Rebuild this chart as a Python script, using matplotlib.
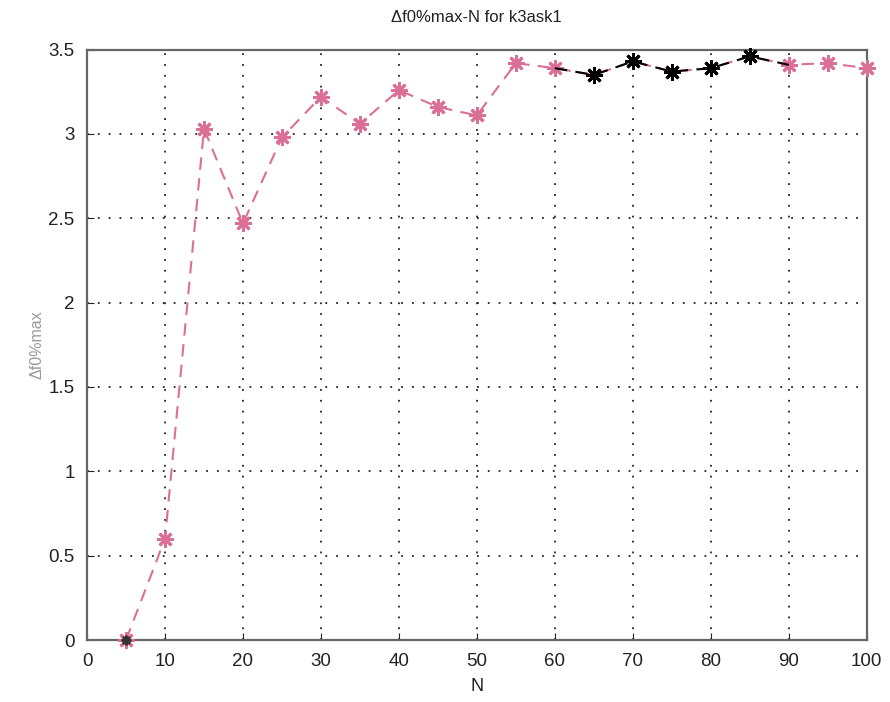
import matplotlib
matplotlib.use("Agg")
import matplotlib.pyplot as plt

#Data
N = [5, 10, 15, 20, 25, 30, 35, 40, 45, 50, 55, 60, 65, 70, 75, 80, 85, 90, 95, 100]
DF = [0.0, 0.6, 3.03, 2.47, 2.98, 3.22, 3.06, 3.26, 3.16, 3.11, 3.42, 3.39,
      3.35, 3.43, 3.37, 3.39, 3.46, 3.41, 3.42, 3.39]
#Black overlay segment
N_BLK = [60, 65, 70, 75, 80, 85, 90]
DF_BLK = [3.39, 3.35, 3.43, 3.37, 3.39, 3.46, 3.41]

XTICKS = list(range(0, 101, 10))
YTICKS = [0, 0.5, 1, 1.5, 2, 2.5, 3, 3.5]
YLABELS = ["0", "0.5", "1", "1.5", "2", "2.5", "3", "3.5"]

PINK = "#dc6f95"
AST = (8, 2, 0)   #MATLAB style asterisk

plt.rcParams["font.family"] = ["Liberation Sans", "DejaVu Sans"]

fig = plt.figure(figsize=(8.9, 7.02), dpi=100)
ax = fig.add_axes([0.0978, 0.0883, 0.876, 0.841])

ax.plot(N, DF, "--", color=PINK, lw=1.5, dashes=(6, 4), clip_on=False, zorder=3)
ax.plot(N, DF, ls="none", marker=AST, color=PINK, ms=12, mew=2.0,
        clip_on=False, zorder=3)
ax.plot(N_BLK, DF_BLK, "--", color="black", lw=1.5, dashes=(6, 4), zorder=4)
ax.plot(N_BLK[1:-1], DF_BLK[1:-1], ls="none", marker=AST, color="black",
        ms=12, mew=2.0, clip_on=False, zorder=5)
ax.plot([5], [0], ls="none", marker=AST, color="#333333", ms=7, mew=1.5,
        clip_on=False, zorder=5)

ax.set_xlim(0, 100)
ax.set_ylim(0, 3.5)
ax.set_xticks(XTICKS)
ax.set_yticks(YTICKS)
ax.set_yticklabels(YLABELS)
ax.tick_params(direction="in", length=5, labelsize=13.5, colors="#222222", pad=9)
ax.grid(True, color="#222222", linestyle=(0, (1.0, 5)), lw=1.3)
for s in ax.spines.values():
    s.set_color("#666666")
    s.set_linewidth(1.6)

ax.set_title("\u0394f0%max-N for k3ask1", fontsize=12, color="#222222", pad=20)
ax.set_xlabel("N", fontsize=13, color="#222222", labelpad=6)
ax.set_ylabel("\u0394f0%max", fontsize=11.5, color="#999999", labelpad=3)

fig.savefig("out.png", dpi=100)
